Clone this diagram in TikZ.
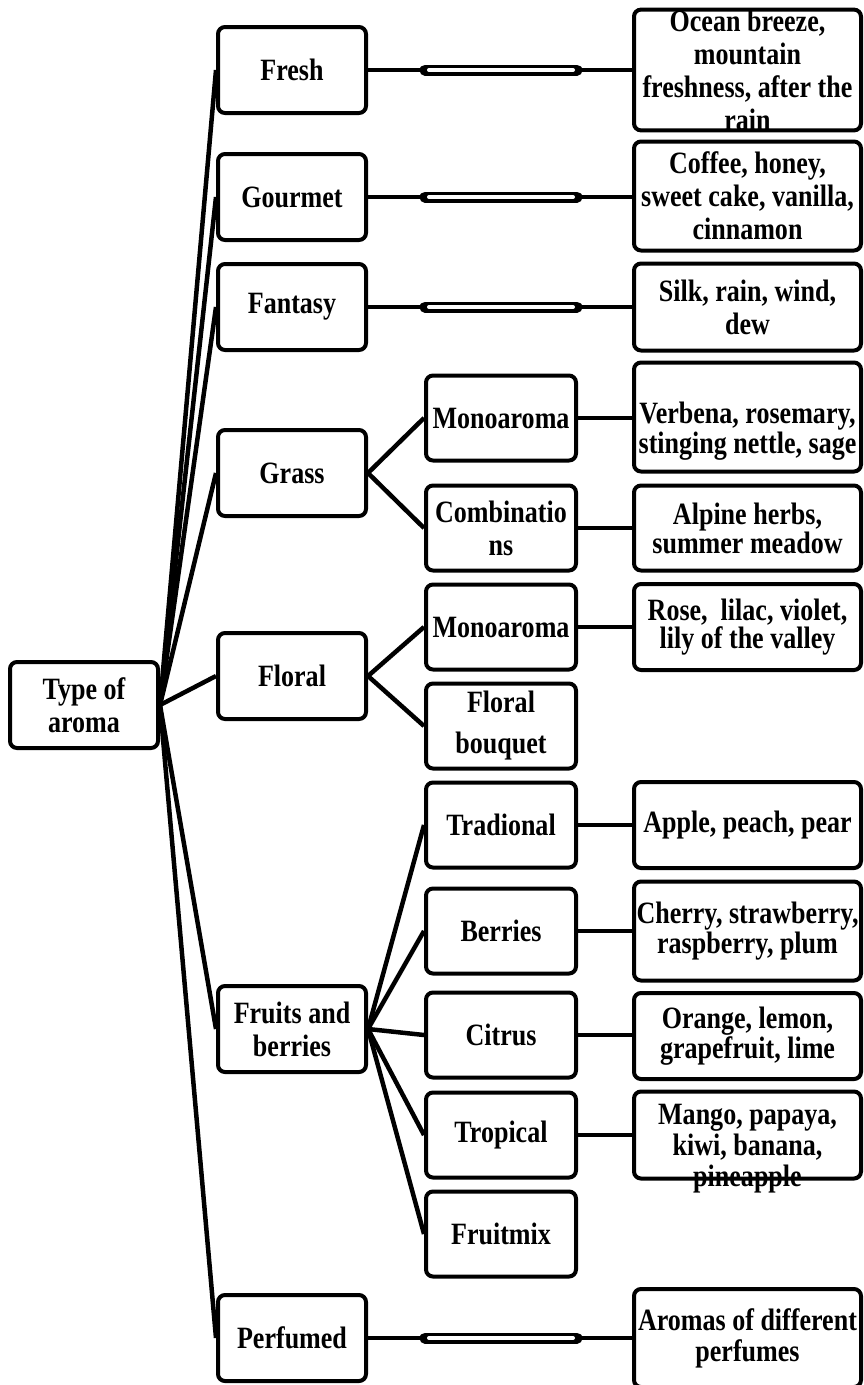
\documentclass[tikz,border=0pt]{standalone}
\usepackage{fontspec}
\newfontfamily\tnr{Liberation Serif}[FakeStretch=0.84]
\begin{document}
\begin{tikzpicture}[x=1pt,y=-1pt,
  box/.style={draw, line width=4pt, rounded corners=7pt, inner sep=0pt, align=flush center,
    font=\tnr\bfseries\fontsize{31}{33}\selectfont},
  lone/.style={box, minimum width=148pt, text width=148pt, minimum height=86pt},
  ltwo/.style={box, minimum width=150pt, text width=150pt, minimum height=85pt},
  lthree/.style={box, minimum width=227pt, text width=227pt},
  tight/.style={font=\tnr\bfseries\fontsize{31}{28}\selectfont},
  mid/.style={font=\tnr\bfseries\fontsize{31}{31}\selectfont},
  loose/.style={font=\tnr\bfseries\fontsize{31}{41}\selectfont},
  link/.style={line width=4.5pt},
  barout/.style={line width=11pt, line cap=round},
  barin/.style={line width=4pt, white, line cap=round}
]
\useasboundingbox (0,0) rectangle (864,1385);
\fill[white] (0,0) rectangle (864,1385);

% root
\node[box, minimum width=148pt, text width=148pt, minimum height=86pt] (root) at (84,705) {Type of\\aroma};

% level 1
\node[lone] (fresh) at (292,70) {Fresh};
\node[lone] (gourmet) at (292,197) {Gourmet};
\node[lone] (fantasy) at (292,307) {Fantasy};
\node[lone] (grass) at (292,473) {Grass};
\node[lone] (floral) at (292,676) {Floral};
\node[lone] (fruits) at (292,1029) {Fruits and\\berries};
\node[lone] (perfumed) at (292,1338) {Perfumed};

% level 2
\node[ltwo] (monoa) at (501,418) {Monoaroma};
\node[ltwo] (comb) at (501,528) {Combinatio\\ns};
\node[ltwo] (monob) at (501,627) {Monoaroma};
\node[ltwo, loose] (bouquet) at (501,726) {Floral\\bouquet};
\node[ltwo] (trad) at (501,825) {Tradional};
\node[ltwo] (berries) at (501,931) {Berries};
\node[ltwo] (citrus) at (501,1035) {Citrus};
\node[ltwo] (tropical) at (501,1135) {Tropical};
\node[ltwo] (fruitmix) at (501,1234) {Fruitmix};

% level 3
\node[lthree, minimum height=119pt] (ocean) at (747.5,70) {Ocean breeze,\\mountain\\freshness, after the\\rain};
\node[lthree, minimum height=109pt] (coffee) at (747.5,196) {Coffee, honey,\\sweet cake, vanilla,\\cinnamon};
\node[lthree, minimum height=87pt] (silk) at (747.5,307) {Silk, rain, wind,\\dew};
\node[lthree, tight, minimum height=109pt] (verbena) at (747.5,417) {\rule{0pt}{50pt}Verbena, rosemary,\\stinging nettle, sage};
\node[lthree, tight, minimum height=85pt] (alpine) at (747.5,528) {Alpine herbs,\\summer meadow};
\node[lthree, tight, minimum height=86pt] (rose) at (747.5,627) {Rose,\ \ lilac, violet,\\lily of the valley};
\node[lthree, minimum height=86pt] (apple) at (747.5,825) {Apple, peach, pear};
\node[lthree, tight, minimum height=99pt] (cherry) at (747.5,931) {Cherry, strawberry,\\raspberry, plum};
\node[lthree, tight, minimum height=86pt] (orange) at (747.5,1036) {Orange, lemon,\\grapefruit, lime};
\node[lthree, mid, minimum height=87pt] (mango) at (747.5,1135) {\raisebox{-20pt}[0pt][0pt]{\parbox{227pt}{\centering Mango, papaya,\\kiwi, banana,\\pineapple}}};
\node[lthree, mid, minimum height=98pt] (aromas) at (747.5,1338) {Aromas of different\\perfumes};

% root connectors
\foreach \n in {fresh,gourmet,fantasy,grass,floral,fruits,perfumed}
  \draw[link] (root.east) -- (\n.west);

% level1 -> level2
\foreach \n in {monoa,comb} \draw[link] (grass.east) -- (\n.west);
\foreach \n in {monob,bouquet} \draw[link] (floral.east) -- (\n.west);
\foreach \n in {trad,berries,citrus,tropical,fruitmix} \draw[link] (fruits.east) -- (\n.west);

% level2 -> level3
\draw[link] (monoa.east) -- (verbena.west |- monoa.east);
\draw[link] (comb.east) -- (alpine.west |- comb.east);
\draw[link] (monob.east) -- (rose.west |- monob.east);
\draw[link] (trad.east) -- (apple.west |- trad.east);
\draw[link] (berries.east) -- (cherry.west |- berries.east);
\draw[link] (citrus.east) -- (orange.west |- citrus.east);
\draw[link] (tropical.east) -- (mango.west |- tropical.east);

% double-bar connectors
\coordinate (barL) at (425,0);
\coordinate (barR) at (577,0);
\coordinate (inL) at (429,0);
\coordinate (inR) at (573,0);
\foreach \a/\b in {fresh/ocean,gourmet/coffee,fantasy/silk,perfumed/aromas}{
  \draw[link] (\a.east) -- (\b.west |- \a.east);
  \draw[barout] (barL |- \a.east) -- (barR |- \a.east);
  \draw[barin] (inL |- \a.east) -- (inR |- \a.east);
}
\end{tikzpicture}
\end{document}
